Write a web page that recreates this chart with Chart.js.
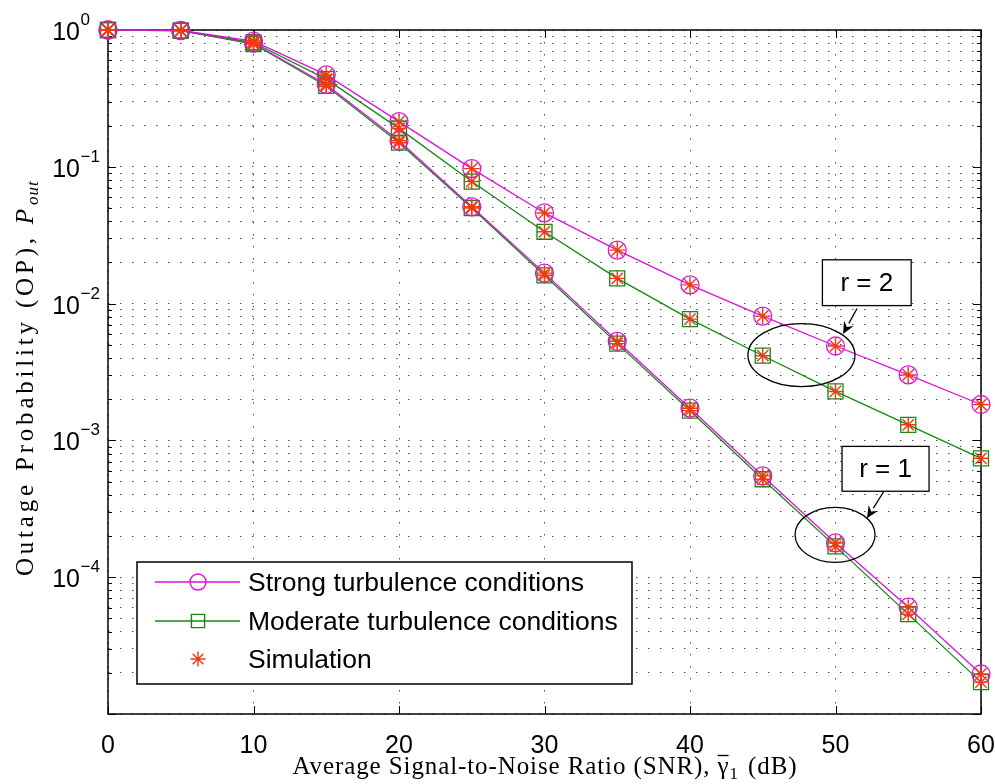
<!DOCTYPE html>
<html><head><meta charset="utf-8">
<script src="https://cdn.jsdelivr.net/npm/chart.js@4/dist/chart.umd.min.js"></script>
<style>html,body{margin:0;padding:0;background:#fff;}#wrap{width:995px;height:784px;}</style>
</head><body><div id="wrap"><canvas id="c" width="995" height="784"></canvas></div>
<script>
// ---- data ----
const snr = [0, 5, 10, 15, 20, 25, 30, 35, 40, 45, 50, 55, 60];
const strongR2   = [1, 0.995, 0.83, 0.47, 0.214, 0.097, 0.046, 0.0246, 0.0137, 0.0081, 0.0049, 0.00301, 0.00183];
const moderateR2 = [1, 0.99, 0.81, 0.437, 0.191, 0.078, 0.0335, 0.0153, 0.0077, 0.00416, 0.00228, 0.00130, 0.00074];
const strongR1   = [1, 0.99, 0.80, 0.40, 0.155, 0.051, 0.0167, 0.0053, 0.00172, 0.00055, 0.000178, 0.0000604, 0.0000196];
const moderateR1 = [1, 0.99, 0.79, 0.39, 0.150, 0.050, 0.0161, 0.0051, 0.00165, 0.00052, 0.000168, 0.0000537, 0.0000171];
const xTickLabels = [0, 10, 20, 30, 40, 50, 60];
const yExponents = [0, -1, -2, -3, -4];
const yMinExp = -5;
const legendLabels = ['Strong turbulence conditions', 'Moderate turbulence conditions', 'Simulation'];
const xTitle = 'Average Signal-to-Noise Ratio (SNR), ';
const yTitle = 'Outage Probability (OP), ';
const notes = [
  {label: 'r = 2', ellipse: [47.66, 0.0042], box: [49.1, 55.2, 0.0209, 0.00967], arrow: [51.48, 0.0092, 50.52, 0.0060]},
  {label: 'r = 1', ellipse: [49.97, 0.000204], box: [50.45, 56.43, 0.000904, 0.000425], arrow: [53.33, 0.000425, 52.16, 0.000270]}
];

const MAG = '#dd11dd', GRN = '#128a12', RED = '#ee3a12';
const pts = arr => snr.map((x, i) => ({x, y: arr[i]}));

function lineDs(label, arr, color, style, radius) {
  return {label, data: pts(arr), borderColor: color, borderWidth: 1.3, pointStyle: style,
    pointRadius: radius, pointHoverRadius: radius, pointBorderColor: color, pointBackgroundColor: 'rgba(0,0,0,0)',
    pointBorderWidth: 1.3, fill: false, tension: 0, order: 2, clip: false};
}
function simDs(arr) {
  return {label: 'Simulation', data: pts(arr), showLine: false, pointStyle: 'star', pointRadius: 8,
    pointHoverRadius: 8, pointBorderColor: RED, pointBackgroundColor: RED, pointBorderWidth: 1.4, borderColor: RED,
    order: 0, clip: false};
}

const GRID = 'rgba(0,0,0,0.7)';
const SANS = '"Liberation Sans", Arial, sans-serif';
const SERIF = '"Liberation Serif", "Times New Roman", serif';

const decor = {
  id: 'decor',
  beforeDatasetsDraw(chart) {
    const {ctx, chartArea: a} = chart;
    ctx.save();
    ctx.strokeStyle = '#000'; ctx.lineWidth = 1.5;
    ctx.strokeRect(a.left, a.top, a.right - a.left, a.bottom - a.top);
    const ys = chart.scales.y, xs = chart.scales.x;
    ctx.lineWidth = 1;
    ys.ticks.forEach(t => {
      const y = Math.round(ys.getPixelForValue(t.value)) + 0.5;
      const major = Math.abs(Math.log10(t.value) - Math.round(Math.log10(t.value))) < 1e-9;
      const len = major ? 8 : 4;
      ctx.beginPath(); ctx.moveTo(a.left, y); ctx.lineTo(a.left + len, y);
      ctx.moveTo(a.right, y); ctx.lineTo(a.right - len, y); ctx.stroke();
    });
    xs.ticks.forEach(t => {
      const x = Math.round(xs.getPixelForValue(t.value)) + 0.5;
      ctx.beginPath(); ctx.moveTo(x, a.bottom); ctx.lineTo(x, a.bottom - 8);
      ctx.moveTo(x, a.top); ctx.lineTo(x, a.top + 8); ctx.stroke();
    });
    ctx.restore();
  },
  afterDraw(chart) {
    const {ctx} = chart;
    const xs = chart.scales.x, ys = chart.scales.y;
    ctx.save();
    ctx.fillStyle = '#000'; ctx.strokeStyle = '#000';
    // x tick labels
    ctx.font = '25px ' + SANS; ctx.textAlign = 'center'; ctx.textBaseline = 'alphabetic';
    xTickLabels.forEach(v => ctx.fillText(String(v), xs.getPixelForValue(v), 753));
    // y tick labels 10^e
    yExponents.forEach(e => {
      const y = ys.getPixelForValue(Math.pow(10, e));
      ctx.font = '25px ' + SANS; ctx.textAlign = 'right';
      ctx.fillText('10', 80, y + 10);
      ctx.font = '17px ' + SANS; ctx.textAlign = 'left';
      ctx.fillText(e === 0 ? '0' : '\u2212' + Math.abs(e), 80.5, y - 5);
    });
    // x title
    ctx.textAlign = 'left';
    ctx.letterSpacing = '0.9px';
    ctx.font = '25px ' + SERIF;
    const w1 = ctx.measureText(xTitle).width;
    const wg = ctx.measureText('\u03b3').width;
    ctx.font = '17px ' + SERIF;
    const ws = ctx.measureText('1').width;
    ctx.font = '25px ' + SERIF;
    const w3 = ctx.measureText(' (dB)').width;
    let x0 = 545 - (w1 + wg + ws + 2 + w3) / 2;
    const by = 774;
    ctx.fillText(xTitle, x0, by); x0 += w1;
    ctx.fillText('\u03b3', x0, by);
    ctx.strokeStyle = '#000'; ctx.lineWidth = 1.4;
    ctx.beginPath(); ctx.moveTo(x0, by - 18.5); ctx.lineTo(x0 + wg - 1, by - 18.5); ctx.stroke();
    x0 += wg;
    ctx.font = '17px ' + SERIF; ctx.fillText('1', x0, by + 5); x0 += ws + 2;
    ctx.font = '25px ' + SERIF; ctx.fillText(' (dB)', x0, by);
    // y title
    ctx.save();
    ctx.translate(33, 374); ctx.rotate(-Math.PI / 2);
    ctx.letterSpacing = '3.8px';
    ctx.font = '25px ' + SERIF;
    const t1 = ctx.measureText(yTitle).width;
    ctx.font = 'italic 25px ' + SERIF;
    const tp = ctx.measureText('P').width;
    ctx.font = 'italic 17px ' + SERIF;
    const to = ctx.measureText('out').width;
    let yx = -(t1 + tp + to) / 2;
    ctx.font = '25px ' + SERIF; ctx.fillText(yTitle, yx, 0); yx += t1;
    ctx.font = 'italic 25px ' + SERIF; ctx.fillText('P', yx, 0); yx += tp;
    ctx.letterSpacing = '1px';
    ctx.font = 'italic 17px ' + SERIF; ctx.fillText('out', yx, 5);
    ctx.restore();
    ctx.letterSpacing = '0px';

    // annotations
    notes.forEach((n, k) => {
      const cx = xs.getPixelForValue(n.ellipse[0]), cy = ys.getPixelForValue(n.ellipse[1]);
      const rx = k === 0 ? 53.5 : 40, ry = k === 0 ? 31.5 : 27.5;
      ctx.strokeStyle = '#000'; ctx.lineWidth = 1.3;
      ctx.beginPath(); ctx.ellipse(cx, cy, rx, ry, 0, 0, Math.PI * 2); ctx.stroke();
      const bx1 = xs.getPixelForValue(n.box[0]), bx2 = xs.getPixelForValue(n.box[1]);
      const by1 = ys.getPixelForValue(n.box[2]), by2 = ys.getPixelForValue(n.box[3]);
      ctx.fillStyle = '#fff'; ctx.fillRect(bx1, by1, bx2 - bx1, by2 - by1);
      ctx.strokeRect(bx1, by1, bx2 - bx1, by2 - by1);
      ctx.fillStyle = '#000'; ctx.font = '26px ' + SANS; ctx.textAlign = 'center'; ctx.textBaseline = 'middle';
      ctx.fillText(n.label, (bx1 + bx2) / 2, (by1 + by2) / 2 + 1);
      const ax1 = xs.getPixelForValue(n.arrow[0]), ay1 = ys.getPixelForValue(n.arrow[1]);
      const ax2 = xs.getPixelForValue(n.arrow[2]), ay2 = ys.getPixelForValue(n.arrow[3]);
      const ang = Math.atan2(ay2 - ay1, ax2 - ax1);
      const hl = 12, hw = 5.5;
      const bxp = ax2 - hl * Math.cos(ang), byp = ay2 - hl * Math.sin(ang);
      ctx.beginPath(); ctx.moveTo(ax1, ay1); ctx.lineTo(bxp, byp); ctx.stroke();
      ctx.beginPath(); ctx.moveTo(ax2, ay2);
      ctx.lineTo(bxp + hw * Math.sin(ang), byp - hw * Math.cos(ang));
      ctx.lineTo(ax2 - 0.65 * hl * Math.cos(ang), ay2 - 0.65 * hl * Math.sin(ang));
      ctx.lineTo(bxp - hw * Math.sin(ang), byp + hw * Math.cos(ang));
      ctx.closePath(); ctx.fill();
    });

    // legend
    const L = 137, T = 562, R = 632, B = 684;
    ctx.fillStyle = '#fff'; ctx.fillRect(L, T, R - L, B - T);
    ctx.strokeStyle = '#000'; ctx.lineWidth = 1.5; ctx.strokeRect(L, T, R - L, B - T);
    const rows = [582, 621, 659];
    const styles = [
      {c: MAG, s: 'circle', r: 8, line: true},
      {c: GRN, s: 'rect', r: 9.3, line: true},
      {c: RED, s: 'star', r: 7.5, line: false}
    ];
    rows.forEach((ry, i) => {
      const st = styles[i];
      if (st.line) {
        ctx.strokeStyle = st.c; ctx.lineWidth = 1.5;
        ctx.beginPath(); ctx.moveTo(155, ry); ctx.lineTo(240, ry); ctx.stroke();
      }
      ctx.strokeStyle = st.c; ctx.fillStyle = 'rgba(0,0,0,0)'; ctx.lineWidth = 1.4;
      Chart.helpers.drawPoint(ctx, {pointStyle: st.s, radius: st.r, rotation: 0, borderWidth: 1.4}, 198, ry);
      ctx.fillStyle = '#000'; ctx.font = '26.5px ' + SANS; ctx.textAlign = 'left'; ctx.textBaseline = 'alphabetic';
      ctx.fillText(legendLabels[i], 248, ry + 9);
    });
    ctx.restore();
  }
};

const yTickVals = [];
for (let e = yMinExp; e < 0; e++) for (let m = 1; m <= 9; m++) yTickVals.push(+(m * Math.pow(10, e)).toPrecision(6));
yTickVals.push(1);

new Chart(document.getElementById('c'), {
  type: 'line',
  data: {
    datasets: [
      simDs(strongR2), simDs(moderateR2), simDs(strongR1), simDs(moderateR1),
      lineDs('Strong turbulence conditions', strongR2, MAG, 'circle', 9),
      lineDs('Moderate turbulence conditions', moderateR2, GRN, 'rect', 10.6),
      lineDs('Strong turbulence conditions', strongR1, MAG, 'circle', 9),
      lineDs('Moderate turbulence conditions', moderateR1, GRN, 'rect', 10.6)
    ]
  },
  options: {
    responsive: false, animation: false, devicePixelRatio: 1,
    layout: {padding: {left: 108, right: 14, top: 30, bottom: 70}},
    plugins: {legend: {display: false}, tooltip: {enabled: false}, title: {display: false}},
    scales: {
      x: {type: 'linear', min: 0, max: 60,
        afterBuildTicks: s => { s.ticks = xTickLabels.map(v => ({value: v})); },
        ticks: {display: false}, grid: {color: GRID, lineWidth: 1, drawTicks: false, borderDash: [1.5, 10.5]},
        border: {display: false, dash: [1.5, 10.5]}},
      y: {type: 'logarithmic', min: Math.pow(10, yMinExp), max: 1,
        afterBuildTicks: s => { s.ticks = yTickVals.map(v => ({value: v})); },
        ticks: {display: false}, grid: {color: GRID, lineWidth: 1, drawTicks: false, borderDash: [1.5, 10.5]},
        border: {display: false, dash: [1.5, 10.5]}}
    }
  },
  plugins: [decor]
});
</script></body></html>
